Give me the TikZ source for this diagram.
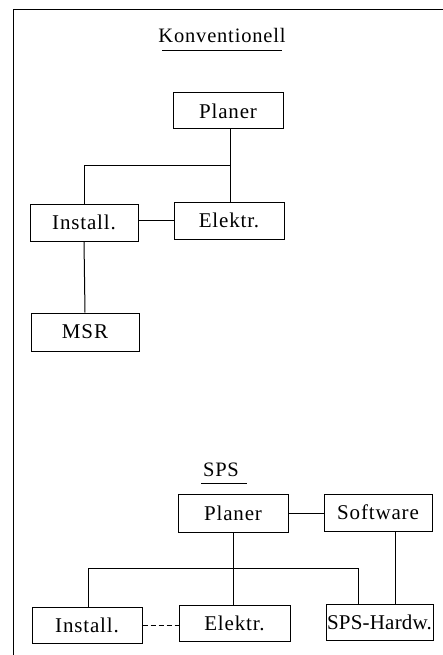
\documentclass[tikz,border=0pt]{standalone}
\usepackage{fontspec}
\setmainfont{Liberation Serif}[LetterSpace=4]
\begin{document}
\begin{tikzpicture}[x=1pt,y=-1pt,
  box/.style={draw,line width=1pt,inner sep=0pt,font=\fontsize{21}{25}\selectfont},
  ttl/.style={inner sep=0pt,font=\fontsize{20.5}{25}\selectfont},
  conn/.style={line width=1pt},
  frame/.style={line width=1.8pt}]
\useasboundingbox (0,0) rectangle (443,655);
\clip (0,0) rectangle (443,655);
% frame
\coordinate (fa) at (13.5,660);
\coordinate (fb) at (13.5,9.5);
\coordinate (fc) at (450,9.5);
\draw[frame] (fa) -- (fb) -- (fc);
% Konventionell
\node[ttl] (K) at (222,35) {Konventionell};
\coordinate (ku1) at (162,51);
\coordinate (ku2) at (282,51);
\draw[conn] (ku1) -- (ku2);
\node[box,minimum width=110pt,minimum height=36pt] (P1) at (228,111) {Planer};
\node[box,minimum width=110pt,minimum height=37pt] (E1) at (229,220.5) {Elektr.};
\node[box,minimum width=108pt,minimum height=37pt] (I1) at (84,222.5) {Install.};
\node[box,minimum width=108pt,minimum height=38pt] (M) at (85,332) {MSR};
\coordinate (j1) at (230,166);
\coordinate (p1b) at (230,129);
\draw[conn] (p1b) -- (p1b |- E1.north);
\draw[conn] (j1) -| (I1.north);
\draw[conn] (I1.east |- E1.west) -- (E1.west);
\draw[conn] (I1.south) -- (M.north);
% SPS
\node[ttl] (T) at (221,470) {SPS};
\coordinate (su1) at (201,483);
\coordinate (su2) at (247,483);
\draw[conn] (su1) -- (su2);
\node[box,minimum width=110pt,minimum height=38pt] (P2) at (233,513) {Planer};
\node[box,minimum width=108pt,minimum height=37pt] (S) at (378,512.5) {Software};
\node[box,minimum width=110pt,minimum height=36pt] (I2) at (87,625) {Install.};
\node[box,minimum width=111pt,minimum height=36pt] (E2) at (234.5,623) {Elektr.};
\node[box,minimum width=107pt,minimum height=36pt,font=\fontsize{21}{25}\addfontfeature{LetterSpace=1}] (H) at (379.5,622) {SPS-Hardw.};
\draw[conn] (P2.east) -- (P2.east -| S.west);
\draw[conn] (P2.south) -- (P2.south |- E2.north);
\coordinate (h1) at (88,568);
\coordinate (h2) at (358,568);
\coordinate (sv) at (395,531);
\draw[conn] (h1 |- I2.north) -- (h1) -- (h2) -- (h2 |- H.north);
\draw[conn] (sv) -- (sv |- H.north);
\draw[conn,dashed,dash pattern=on 5pt off 3pt] (I2.east) -- (I2.east -| E2.west);
\end{tikzpicture}
\end{document}
